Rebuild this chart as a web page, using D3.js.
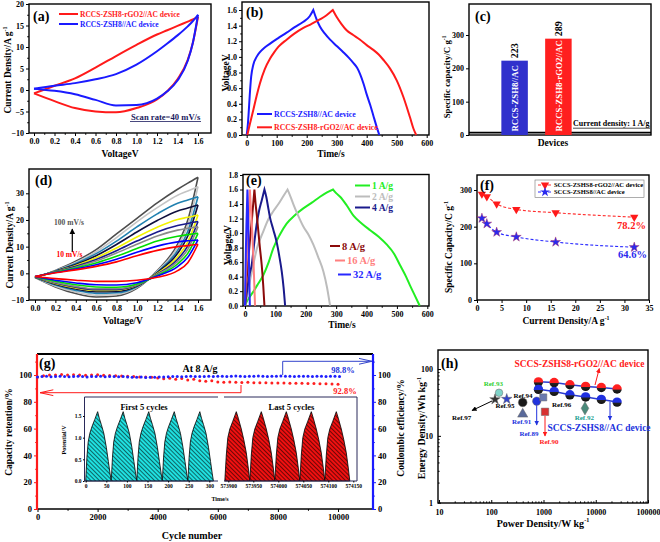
<!DOCTYPE html>
<html><head><meta charset="utf-8">
<script src="https://cdn.jsdelivr.net/npm/d3@7"></script>
<style>body{margin:0;background:#fff}svg{display:block}</style>
</head><body><svg id="c" width="660" height="542"></svg>
<script>
// ================= DATA =================
// (a) CV at 40 mV/s
const aVolt = [0,0.2,0.4,0.6,0.8,1.0,1.2,1.3,1.4,1.5,1.55,1.6];
const aRGOUp = [-0.8,1.0,2.7,5.2,7.9,10.5,12.9,13.9,14.9,15.9,16.4,17.0];
const aRGODown = [-0.8,-2.6,-4.2,-5.0,-5.2,-4.2,-2.2,-0.3,2.5,7.0,11.0,17.0];
const aZSHUp = [0.3,1.0,1.6,2.5,3.7,5.9,9.0,10.8,12.7,14.8,16.0,17.5];
const aZSHDown = [0.3,-0.2,-1.0,-2.3,-3.6,-3.5,-2.0,-0.3,2.2,6.8,11.0,17.5];
const aXTicks = [0,0.2,0.4,0.6,0.8,1.0,1.2,1.4,1.6];
const aYTicks = [-10,-5,0,5,10,15,20];
// (b) GCD at 1 A/g
const bZSHTime = [0,3,6,10,15,22,33,44,60,78,105,133,160,189,210,222,233,244,260,278,300,322,340,356,368,378,390,400,412,422,432,442];
const bZSHVolt = [0,0.1,0.25,0.5,0.75,0.9,1.0,1.06,1.12,1.17,1.24,1.31,1.38,1.45,1.52,1.6,1.48,1.39,1.3,1.22,1.14,1.06,0.99,0.92,0.86,0.78,0.65,0.52,0.38,0.25,0.12,0];
const bRGOTime = [2,10,22,33,44,60,78,92,106,133,160,189,215,244,265,287,300,316,333,355,378,400,422,440,456,478,500,522,544,556,565];
const bRGOVolt = [0,0.13,0.32,0.5,0.66,0.84,0.98,1.06,1.13,1.22,1.3,1.37,1.42,1.48,1.53,1.6,1.51,1.42,1.34,1.28,1.22,1.15,1.09,1.03,0.96,0.85,0.70,0.49,0.23,0.08,0];
const bXTicks = [0,100,200,300,400,500,600];
const bYTicks = [0,0.2,0.4,0.6,0.8,1.0,1.2,1.4,1.6];
// (c) specific capacity
const cDevices = ["RCCS-ZSH8//AC","RCCS-ZSH8-rGO2//AC"];
const cCapacity = [223,289];
const cYTicks = [0,100,200,300];
// (d) CV at different scan rates
const dVolt = [0,0.2,0.4,0.6,0.8,1.0,1.2,1.4,1.5,1.6];
const dScanRates = [10,20,30,40,50,60,70,80,90,100];
const dUpper = [
 [-1.2,0.2,1.3,2.6,4.3,6.6,8.6,10.0,10.4,10.9],
 [-1.2,0.3,1.6,3.2,5.3,7.9,10.2,11.8,12.2,12.5],
 [-1.3,0.4,2.0,3.9,6.4,9.3,12.1,13.9,14.5,15.0],
 [-1.3,0.5,2.3,4.6,7.6,10.9,14.0,16.2,16.9,17.5],
 [-1.4,0.6,2.6,5.2,8.5,12.1,15.5,17.9,18.7,19.4],
 [-1.4,0.7,2.9,5.8,9.5,13.6,17.3,20.2,21.0,21.9],
 [-1.5,0.8,3.3,6.6,10.8,15.5,19.8,23.4,24.5,25.6],
 [-1.5,0.9,3.7,7.4,12.1,17.4,22.3,26.3,27.5,28.7],
 [-1.6,1.0,4.1,8.1,13.4,19.3,24.6,29.3,30.9,32.5],
 [-1.6,1.1,4.5,8.9,14.8,20.6,26.4,31.5,33.8,36.0]];
const dLower = [
 [-1.2,-2.0,-2.6,-3.0,-3.0,-2.6,-1.5,1.0,4.0,10.9],
 [-1.2,-2.6,-3.6,-4.3,-4.4,-3.5,-1.0,2.5,6.0,12.5],
 [-1.3,-3.0,-4.3,-5.1,-5.2,-4.0,-0.8,3.5,7.5,15.0],
 [-1.3,-3.4,-4.9,-5.8,-5.8,-4.3,-0.5,4.5,9.0,17.5],
 [-1.4,-3.6,-5.2,-6.1,-6.1,-4.4,-0.3,5.3,10.3,19.4],
 [-1.4,-3.8,-5.5,-6.4,-6.3,-4.5,0.0,6.2,11.8,21.9],
 [-1.5,-4.1,-5.9,-6.9,-6.8,-4.8,0.3,7.5,14.0,25.6],
 [-1.5,-4.4,-6.4,-7.5,-7.3,-5.0,0.5,8.6,15.8,28.7],
 [-1.6,-4.8,-7.0,-8.2,-7.9,-5.3,0.8,9.8,18.0,32.5],
 [-1.6,-5.1,-7.6,-8.9,-8.5,-5.6,1.0,11.0,20.0,36.0]];
const dYTicks = [-10,0,10,20,30];
// (e) GCD at different current densities
const eLabels = ["1 A/g","2 A/g","4 A/g","8 A/g","16 A/g","32 A/g"];
const eTimes = [
 [0,5,15,27,40,60,78,93,115,137,165,192,220,247,270,290,300,313,335,357,385,412,440,467,490,510,530,543,558,575],
 [0,5,12,20,27,40,60,78,93,110,125,140,150,159,175,192,210,225,240,258,270,280],
 [0,4,10,16,22,30,38,46,55,64,70,76,82,93,104,113,121,127,132],
 [0,3,7,11,14,18,24,31,35,40,44,49,55,60,64],
 [0,2,4,8,12,16,20,24,28,31,33],
 [0,1,3,5,8,10,12,14,16]];
const eVolts = [
 [0,0.05,0.12,0.19,0.28,0.42,0.6,0.79,0.98,1.13,1.25,1.34,1.42,1.5,1.56,1.6,1.55,1.5,1.38,1.24,1.13,1.04,0.95,0.84,0.72,0.56,0.4,0.28,0.15,0],
 [0,0.1,0.25,0.42,0.56,0.8,1.02,1.2,1.3,1.4,1.5,1.6,1.5,1.4,1.24,1.09,0.97,0.84,0.68,0.47,0.25,0],
 [0,0.12,0.3,0.45,0.56,0.85,1.11,1.3,1.45,1.6,1.5,1.36,1.22,1.05,0.88,0.68,0.47,0.25,0],
 [0,0.2,0.45,0.65,0.79,0.98,1.25,1.6,1.4,1.2,1.02,0.8,0.56,0.28,0],
 [0,0.3,0.5,0.85,1.2,1.6,1.3,1.0,0.6,0.25,0],
 [0,0.3,0.79,1.15,1.6,1.3,0.85,0.4,0]];
const eYTicks = [0,0.2,0.4,0.6,0.8,1.0,1.2,1.4,1.6,1.8];
// (f) rate capability
const fCurrent = [1,2,4,8,16,32];
const fRGO = [289,282,262,247,238,226];
const fZSH = [223,208,185,172,158,144];
const fXTicks = [0,5,10,15,20,25,30,35];
const fYTicks = [0,100,200,300];
// (g) cycling
const gRetCycles = [0,200,400,600,800,1000,1200,1400,1600,1800,2000,2200,2400,2600,2800,3000,3200,3400,3600,3800,4000,4200,4400,4600,4800,5000,5200,5400,5600,5800,6000,6200,6400,6600,6800,7000,7200,7400,7600,7800,8000,8200,8400,8600,8800,9000,9200,9400,9600,9800,10000];
const gRetention = [98.5,99.5,100,100,100.3,100,100.2,100,99.8,100,100.2,99.8,99.6,99.5,99.2,99.0,98.8,98.6,98.6,98.3,97.8,97.2,97.6,96.8,97.3,96.2,96.8,95.8,95.3,95.8,94.8,94.6,94.8,94.5,94.4,94.5,94.3,94.2,94.3,94.1,94.0,94.0,93.9,93.8,93.8,93.7,93.6,93.5,93.4,93.3,93.1];
const gEffCycles = [0,150,300,450,600,750,900,1050,1200,1350,1500,1650,1800,1950,2100,2250,2400,2550,2700,2850,3000,3150,3300,3450,3600,3750,3900,4050,4200,4350,4500,4650,4800,4950,5100,5250,5400,5550,5700,5850,6000,6150,6300,6450,6600,6750,6900,7050,7200,7350,7500,7650,7800,7950,8100,8250,8400,8550,8700,8850,9000,9150,9300,9450,9600,9750,9900,10050];
const gEfficiency = [98.6,98.9,99.0,98.7,98.8,99.1,98.9,98.7,98.8,99.0,
 98.8,98.6,98.9,98.8,99.0,98.7,98.8,98.9,98.7,98.8,
 98.6,98.4,98.3,98.5,98.2,98.4,98.3,98.5,98.6,98.7,
 98.8,98.9,98.7,98.8,99.0,98.9,98.8,98.9,99.0,98.8,
 99.0,99.1,98.9,99.0,99.2,99.0,98.9,99.1,99.0,99.2,
 99.0,98.9,99.1,99.0,99.2,99.0,99.1,98.9,99.0,99.1,
 99.0,98.9,99.1,99.0,98.9,99.0,99.1,98.8];
const gXTicks = [0,2000,4000,6000,8000,10000];
const gYTicks = [0,20,40,60,80,100];
// (g) inset
const insetFirstStarts = [0,62,124,186,248];
const insetLastStarts = [573893,573943,573993,574043,574093];
const firstCycleT = [0,3,6,10,15,22,29,33,38,44,50,55,59,62];
const firstCycleV = [0,0.55,0.9,1.1,1.25,1.42,1.6,1.45,1.3,1.1,0.78,0.45,0.18,0];
const lastCycleT = [0,3,6,10,16,23,27,33,38,43,47,50];
const lastCycleV = [0,0.6,1.0,1.2,1.38,1.6,1.45,1.2,0.95,0.65,0.3,0];
const insetTicks1 = [0,50,100,150,200,250,300];
const insetTicks2 = [573900,573950,574000,574050,574100,574150];
const insetYTicks = [0,0.5,1.0,1.5];
// (h) Ragone
const hPower = [800,1600,3200,6400,12800,25600];
const hEnergyRGO = [64.2,62.7,58.2,54.9,52.9,50.2];
const hEnergyZSH = [49.6,46.2,41.1,38.2,35.1,32.0];
const refNames = ["Ref.89","Ref.90","Ref.91","Ref.92","Ref.93","Ref.94","Ref.95","Ref.96","Ref.97"];
const refPower = [741,1070,400,6220,141,400,198,990,118];
const refEnergy = [33.0,22.9,21.1,25.8,44.1,31.6,35.5,37.6,35.1];
const hXTicks = [10,100,1000,10000,100000];
const hYTicks = [1,10,100];

// ================= HELPERS =================
const F = '"Liberation Serif","Times New Roman",serif';
const svg = d3.select('#c');
svg.append('rect').attr('width',660).attr('height',542).attr('fill','#fff');
const defs = svg.append('defs');

function T(x,y,s,o={}){
  const fs = o.fs||9.5;
  const t = svg.append('text').attr('x',x).attr('y',y).attr('font-family',F).attr('font-weight','bold')
    .attr('font-size',fs).attr('fill',o.c||'#000').attr('text-anchor',o.a||'start');
  if(o.r) t.attr('transform',`rotate(${o.r},${x},${y})`);
  if(Array.isArray(s)){
    t.append('tspan').text(s[0]);
    t.append('tspan').text(s[1]).attr('font-size',fs*0.62).attr('dy',-fs*0.42);
  } else t.text(s);
  return t;
}
function frame(x0,y0,x1,y1,sw){
  svg.append('rect').attr('x',x0).attr('y',y0).attr('width',x1-x0).attr('height',y1-y0)
    .attr('fill','none').attr('stroke','#000').attr('stroke-width',sw||1.4);
}
const AX = {b:d3.axisBottom,l:d3.axisLeft,r:d3.axisRight,t:d3.axisTop};
function axis(kind, sc, pos, vals, fmt, o={}){
  const tr = (kind==='b'||kind==='t') ? `translate(0,${pos})` : `translate(${pos},0)`;
  const gen = AX[kind](sc).tickValues(vals).tickFormat(fmt).tickSize(o.ts??3).tickPadding(o.tp??2);
  const g = svg.append('g').attr('transform',tr).call(gen);
  g.select('.domain').remove();
  g.attr('font-family',F).attr('font-size',o.fs||8).attr('font-weight','bold');
  g.selectAll('line').attr('stroke',o.c||'#000').attr('stroke-width',o.sw||1);
  g.selectAll('text').attr('fill',o.tc||'#000');
  if(o.minor){
    const m = svg.append('g').attr('transform',tr).call(AX[kind](sc).tickValues(o.minor).tickFormat(()=> '').tickSize(o.ms??1.8));
    m.select('.domain').remove();
    m.selectAll('line').attr('stroke',o.c||'#000').attr('stroke-width',o.sw||1);
  }
  return g;
}
const L = d3.line().curve(d3.curveMonotoneX);
function peakPath(xs, ys, t, v){
  const pts = t.map((d,i)=>[xs(d), ys(v[i])]);
  const k = d3.maxIndex(v);
  return L(pts.slice(0,k+1)) + L(pts.slice(k)).replace(/^M/,'L');
}
function arrowMarker(id,color){
  defs.append('marker').attr('id',id).attr('viewBox','0 0 10 10').attr('refX',9).attr('refY',5)
    .attr('markerWidth',5).attr('markerHeight',5).attr('orient','auto')
    .append('path').attr('d','M0,0L10,5L0,10Z').attr('fill',color);
}
arrowMarker('arK','#000'); arrowMarker('arR','#ff1a1a'); arrowMarker('arB','#2233dd');
const fmt1 = d3.format('.1f'), fmtD = d3.format('d');

// ================= (a) =================
{
  const x = d3.scaleLinear().domain([0,1.6]).range([34,198]);
  const y = d3.scaleLinear().domain([-10,20]).range([133,4]);
  frame(29,4,211,133);
  axis('b',x,133,aXTicks,fmt1,{minor:d3.range(0.1,1.7,0.2)});
  axis('l',y,29,aYTicks,fmtD,{minor:d3.range(-7.5,20,5)});
  const ln = d3.line().x((d,i)=>x(aVolt[i])).y(d=>y(d)).curve(d3.curveMonotoneX);
  [[aRGOUp,'#ff1a1a'],[aRGODown,'#ff1a1a'],[aZSHUp,'#1a1aff'],[aZSHDown,'#1a1aff']].forEach(([arr,c])=>{
    svg.append('path').attr('d',ln(arr)).attr('fill','none').attr('stroke',c).attr('stroke-width',2);
  });
  svg.append('line').attr('x1',59).attr('x2',78).attr('y1',14).attr('y2',14).attr('stroke','#ff1a1a').attr('stroke-width',2);
  T(80,16.8,'RCCS-ZSH8-rGO2//AC device',{fs:7.5,c:'#ff1a1a'});
  svg.append('line').attr('x1',59).attr('x2',78).attr('y1',24).attr('y2',24).attr('stroke','#1a1aff').attr('stroke-width',2);
  T(80,26.8,'RCCS-ZSH8//AC device',{fs:7.5,c:'#1a1aff'});
  T(131,119.5,'Scan rate=40 mV/s',{fs:8.6,c:'#1a1a5e'});
  svg.append('line').attr('x1',130).attr('x2',201).attr('y1',121.5).attr('y2',121.5).attr('stroke','#1a1a5e').attr('stroke-width',0.8);
  T(33,20.5,'(a)',{fs:14});
  T(11,70,['Current Density/A g','-1'],{a:'middle',r:-90});
  T(120,156.5,'VoltageV',{a:'middle'});
}

// ================= (b) =================
{
  const x = d3.scaleLinear().domain([0,600]).range([246.7,426.7]);
  const y = d3.scaleLinear().domain([0,1.6]).range([135,10]);
  frame(242,2,429,135);
  axis('b',x,135,bXTicks,fmtD,{minor:d3.range(50,600,100)});
  axis('l',y,242,bYTicks,fmt1,{minor:d3.range(0.1,1.7,0.2)});
  svg.append('path').attr('d',peakPath(x,y,bZSHTime,bZSHVolt)).attr('fill','none').attr('stroke','#1a1aff').attr('stroke-width',2);
  svg.append('path').attr('d',peakPath(x,y,bRGOTime,bRGOVolt)).attr('fill','none').attr('stroke','#ff1a1a').attr('stroke-width',2);
  svg.append('line').attr('x1',257).attr('x2',272).attr('y1',114).attr('y2',114).attr('stroke','#1a1aff').attr('stroke-width',2);
  T(274,116.8,'RCCS-ZSH8//AC device',{fs:7.8,c:'#1a1aff'});
  svg.append('line').attr('x1',257).attr('x2',272).attr('y1',127.3).attr('y2',127.3).attr('stroke','#ff1a1a').attr('stroke-width',2);
  T(274,130,'RCCS-ZSH8-rGO2//AC device',{fs:7.8,c:'#ff1a1a'});
  T(246,17,'(b)',{fs:14});
  T(229,73,'VoltageV',{a:'middle',r:-90});
  T(331,156.5,'Time/s',{a:'middle'});
}

// ================= (c) =================
{
  const y = d3.scaleLinear().domain([0,300]).range([135,35]);
  const x = d3.scaleBand().domain(cDevices).range([488,585]).paddingInner(0.395).paddingOuter(0.305);
  frame(469,4,651,135);
  axis('l',y,469,cYTicks,fmtD,{});
  svg.append('line').attr('x1',469).attr('x2',651).attr('y1',y(7)).attr('y2',y(7)).attr('stroke','#000').attr('stroke-width',1.8);
  const cols = ['#3030cc','#ff1f1f'];
  cDevices.forEach((d,i)=>{
    svg.append('rect').attr('x',x(d)).attr('y',y(cCapacity[i])).attr('width',x.bandwidth()).attr('height',y(0)-y(cCapacity[i])).attr('fill',cols[i]);
    const cx = x(d)+x.bandwidth()/2;
    T(cx+3.3, 131.5, d, {fs:8.8,c:'#fff',r:-90});
    T(cx+3.6, y(cCapacity[i])-10, String(cCapacity[i]), {fs:10,a:'middle',r:-90});
  });
  T(573,126.3,'Current density: 1 A/g',{fs:8});
  svg.append('line').attr('x1',573).attr('x2',650).attr('y1',128.2).attr('y2',128.2).attr('stroke','#000').attr('stroke-width',0.7);
  T(475,21,'(c)',{fs:14});
  T(450,77,['Specific capacity/C g','-1'],{a:'middle',r:-90,fs:8.8});
  T(553,146,'Devices',{a:'middle'});
}

// ================= (d) =================
{
  const x = d3.scaleLinear().domain([0,1.6]).range([35,198]);
  const y = d3.scaleLinear().domain([-10,30]).range([300,193.3]);
  frame(29,169,211,300);
  axis('b',x,300,aXTicks,fmt1,{minor:d3.range(0.1,1.7,0.2)});
  axis('l',y,29,dYTicks,fmtD,{minor:d3.range(-5,35,10)});
  const cols = ['#ff0000','#0000ff','#00dd00','#8a8a8a','#1a1a8c','#f2f200','#0f0f3c','#2080b0','#c4c4c4','#4d4d4d'];
  const ln = d3.line().x((d,i)=>x(dVolt[i])).y(d=>y(d)).curve(d3.curveMonotoneX);
  for(let i=dScanRates.length-1;i>=0;i--){
    svg.append('path').attr('d',ln(dUpper[i])).attr('fill','none').attr('stroke',cols[i]).attr('stroke-width',1.6);
    svg.append('path').attr('d',ln(dLower[i])).attr('fill','none').attr('stroke',cols[i]).attr('stroke-width',1.6);
  }
  T(69,224.5,'100 mV/s',{fs:7.5,c:'#555',a:'middle'});
  svg.append('line').attr('x1',72.3).attr('x2',72.3).attr('y1',252).attr('y2',229).attr('stroke','#000').attr('stroke-width',1.2).attr('marker-end','url(#arK)');
  T(69.5,257,'10 mV/s',{fs:7.5,c:'#ff0000',a:'middle'});
  T(35,185,'(d)',{fs:14});
  T(12.5,245,['Current Density/A g','-1'],{a:'middle',r:-90});
  T(123,324,'Voltage/V',{a:'middle'});
}

// ================= (e) =================
{
  const x = d3.scaleLinear().domain([0,600]).range([245,427.3]);
  const y = d3.scaleLinear().domain([0,1.8]).range([305.7,175]);
  frame(243,174.5,429,306);
  axis('b',x,306,bXTicks,fmtD,{minor:d3.range(50,600,100)});
  axis('l',y,243,eYTicks,fmt1,{fs:7.6});
  const cols = ['#22ee22','#bcbcbc','#1a1a8c','#8b0a0a','#ff7f7f','#2828ff'];
  eTimes.forEach((t,i)=>{
    svg.append('path').attr('d',peakPath(x,y,t,eVolts[i])).attr('fill','none').attr('stroke',cols[i]).attr('stroke-width',2);
  });
  const leg = [[355,370,185.5],[355,370,196.5],[355,370,207.5],[330,340,246],[335,345,260.5],[338,351,274.5]];
  leg.forEach((p,i)=>{
    svg.append('line').attr('x1',p[0]).attr('x2',p[1]).attr('y1',p[2]).attr('y2',p[2]).attr('stroke',cols[i]).attr('stroke-width',2);
    T(p[1]+2,p[2]+3.6,eLabels[i],{fs:i<3?9.6:10.5,c:cols[i]});
  });
  T(246,185,'(e)',{fs:14});
  T(230.5,245,'Voltage/V',{a:'middle',r:-90});
  T(342,328,'Time/s',{a:'middle'});
}

// ================= (f) =================
{
  const x = d3.scaleLinear().domain([0,35]).range([477,649]);
  const y = d3.scaleLinear().domain([0,300]).range([300,190]);
  frame(477,175,649,300);
  axis('b',x,300,fXTicks,fmtD,{});
  axis('l',y,477,fYTicks,fmtD,{});
  const ln = d3.line().x((d,i)=>x(fCurrent[i])).y(d=>y(d)).curve(d3.curveMonotoneX);
  svg.append('path').attr('d',ln(fRGO)).attr('fill','none').attr('stroke','#ff3030').attr('stroke-width',1.1).attr('stroke-dasharray','3,2');
  svg.append('path').attr('d',ln(fZSH)).attr('fill','none').attr('stroke','#2a2aff').attr('stroke-width',1.1).attr('stroke-dasharray','3,2');
  const tri = d3.symbol().type(d3.symbolTriangle).size(30)();
  const star = d3.symbol().type(d3.symbolStar).size(30)();
  fRGO.forEach((v,i)=> svg.append('path').attr('d',tri).attr('transform',`translate(${x(fCurrent[i])},${y(v)}) rotate(180)`).attr('fill','#ff1a1a'));
  fZSH.forEach((v,i)=> svg.append('path').attr('d',star).attr('transform',`translate(${x(fCurrent[i])},${y(v)})`).attr('fill','#2a2aee').attr('stroke','#b02050').attr('stroke-width',0.4));
  svg.append('rect').attr('x',535).attr('y',180).attr('width',109).attr('height',17.5).attr('fill','#fff').attr('stroke','#777').attr('stroke-width',0.6);
  svg.append('line').attr('x1',538).attr('x2',552).attr('y1',185).attr('y2',185).attr('stroke','#ff3030').attr('stroke-dasharray','3,2');
  svg.append('path').attr('d',tri).attr('transform','translate(545,185) rotate(180)').attr('fill','#ff1a1a');
  T(554,187.3,'SCCS-ZSHS8-rGO2//AC device',{fs:6.5});
  svg.append('line').attr('x1',538).attr('x2',552).attr('y1',192).attr('y2',192).attr('stroke','#2a2aff').attr('stroke-dasharray','3,2');
  svg.append('path').attr('d',star).attr('transform','translate(545,192)').attr('fill','#2a2aee');
  T(554,194.3,'SCCS-ZSHS8//AC device',{fs:6.5});
  T(617,229,'78.2%',{fs:10.5,c:'#ff1a1a'});
  T(618,258,'64.6%',{fs:10.5,c:'#2a2aee'});
  T(480,190,'(f)',{fs:14});
  T(452,247,['Specific Capacity/C g','-1'],{a:'middle',r:-90});
  T(566,324,['Current Density/A g','-1'],{a:'middle'});
}

// ================= (g) =================
{
  const x = d3.scaleLinear().domain([0,10000]).range([37.5,338]);
  const y = d3.scaleLinear().domain([0,100]).range([509,375]);
  svg.append('line').attr('x1',37).attr('x2',373).attr('y1',354).attr('y2',354).attr('stroke','#000').attr('stroke-width',2);
  svg.append('line').attr('x1',37).attr('x2',373).attr('y1',509).attr('y2',509).attr('stroke','#000').attr('stroke-width',1.5);
  axis('b',x,509,gXTicks,fmtD,{fs:8.5,minor:d3.range(1000,11000,2000)});
  axis('l',y,37,gYTicks,fmtD,{c:'#ff1a1a',fs:8.5,minor:d3.range(10,120,20)});
  axis('r',y,373,gYTicks,fmtD,{c:'#1a1aff',fs:8.5,minor:d3.range(10,120,20)});
  svg.append('line').attr('x1',37).attr('x2',37).attr('y1',354).attr('y2',510).attr('stroke','#ff1a1a').attr('stroke-width',2.2);
  svg.append('line').attr('x1',373).attr('x2',373).attr('y1',354).attr('y2',510).attr('stroke','#1a1aff').attr('stroke-width',2.2);
  gRetCycles.forEach((c,i)=> svg.append('circle').attr('cx',x(c)).attr('cy',y(gRetention[i])).attr('r',1.5).attr('fill','#ff2020'));
  gEffCycles.forEach((c,i)=> svg.append('circle').attr('cx',x(c)).attr('cy',y(gEfficiency[i])).attr('r',1.5).attr('fill','#1f1fff'));
  // arrows
  svg.append('path').attr('d','M241,385L241,392.7L40,392.7').attr('fill','none').attr('stroke','#ff1a1a').attr('stroke-width',1);
  svg.append('path').attr('d','M53.3,389.8L40,392.7L53.3,395.6').attr('fill','none').attr('stroke','#ff1a1a').attr('stroke-width',1);
  svg.append('path').attr('d','M282.7,375L282.7,361.3L372,361.3').attr('fill','none').attr('stroke','#3344cc').attr('stroke-width',1);
  svg.append('path').attr('d','M359,358.4L372,361.3L359,364.2').attr('fill','none').attr('stroke','#3344cc').attr('stroke-width',1);
  T(200,371.5,'At 8 A/g',{fs:10,a:'middle'});
  T(343,372.5,'98.8%',{fs:8.5,c:'#2233dd',a:'middle'});
  T(345,394,'92.8%',{fs:8.5,c:'#ff1a1a',a:'middle'});
  // inset
  const i1 = d3.scaleLinear().domain([0,300]).range([85.7,209.3]);
  const i2 = d3.scaleLinear().domain([573900,574150]).range([228.3,353.3]);
  const iy = d3.scaleLinear().domain([0,1.5]).range([481,416]);
  svg.append('rect').attr('x',84.5).attr('y',397).attr('width',272.5).attr('height',84).attr('fill','#fff');
  const pc = defs.append('pattern').attr('id','hC').attr('patternUnits','userSpaceOnUse').attr('width',3).attr('height',3).attr('patternTransform','rotate(-45)');
  pc.append('rect').attr('width',3).attr('height',3).attr('fill','#1fe0e0');
  pc.append('line').attr('x1',0.5).attr('x2',0.5).attr('y1',0).attr('y2',3).attr('stroke','#000').attr('stroke-width',0.55);
  const pr = defs.append('pattern').attr('id','hR').attr('patternUnits','userSpaceOnUse').attr('width',3).attr('height',3).attr('patternTransform','rotate(-45)');
  pr.append('rect').attr('width',3).attr('height',3).attr('fill','#f01010');
  pr.append('line').attr('x1',0.5).attr('x2',0.5).attr('y1',0).attr('y2',3).attr('stroke','#000').attr('stroke-width',0.55);
  const lin = d3.line();
  function cyc(xs, s, tt, vv, fill){
    const pts = tt.map((t,i)=>[xs(s+t), iy(vv[i])]);
    svg.append('path').attr('d',lin(pts)+'Z').attr('fill',`url(#${fill})`).attr('stroke','#000').attr('stroke-width',0.8);
  }
  insetFirstStarts.forEach(s=>cyc(i1,s,firstCycleT,firstCycleV,'hC'));
  insetLastStarts.forEach(s=>cyc(i2,s,lastCycleT,lastCycleV,'hR'));
  const fr = '#2a2a5a';
  svg.append('path').attr('d','M218,397L84.5,397L84.5,481L218,481').attr('fill','none').attr('stroke',fr).attr('stroke-width',1);
  svg.append('path').attr('d','M224,481L357,481L357,397L224,397').attr('fill','none').attr('stroke',fr).attr('stroke-width',1);
  axis('b',i1,481,insetTicks1,fmtD,{fs:5.5,ts:1.5,tp:2});
  axis('b',i2,481,insetTicks2,fmtD,{fs:5.5,ts:1.5,tp:2});
  axis('l',iy,84.5,insetYTicks,fmt1,{fs:5.5,ts:1.5,tp:1.5});
  T(144,410,'First 5 cycles',{fs:8.5,a:'middle'});
  T(291.5,409.5,'Last 5 cycles',{fs:8.5,a:'middle'});
  T(220,501,'Time/s',{fs:6,a:'middle'});
  T(66,440,'Potential/V',{fs:6,a:'middle',r:-90});
  T(39,368,'(g)',{fs:14});
  T(11.5,432,'Capacity retention/%',{a:'middle',r:-90});
  T(404,428,'Coulombic efficiency/%',{a:'middle',r:-90});
  T(192,538.5,'Cycle number',{a:'middle',fs:10});
}

// ================= (h) =================
{
  const x = d3.scaleLog().domain([10,100000]).range([439,648]);
  const y = d3.scaleLog().domain([1,100]).range([502.7,369]);
  frame(438,350,648,503);
  const xm = []; [10,100,1000,10000].forEach(d=>[2,3,4,5,6,7,8,9].forEach(k=>xm.push(d*k)));
  const ym = []; [1,10,100].forEach(d=>[2,3,4,5,6,7,8,9].forEach(k=>{ if(d*k<190) ym.push(d*k); }));
  axis('b',x,503,hXTicks,fmtD,{ts:-3,tp:6,minor:xm,ms:-1.6});
  axis('l',y,438,hYTicks,fmtD,{ts:-3,tp:5,minor:ym,ms:-1.6});
  // series
  const gr = defs.append('linearGradient').attr('id','gRed').attr('x1',0).attr('y1',0).attr('x2',0).attr('y2',1);
  [[0,'#ff2020'],[0.52,'#ff2020'],[0.6,'#222'],[1,'#111']].forEach(s=>gr.append('stop').attr('offset',s[0]).attr('stop-color',s[1]));
  const gb = defs.append('linearGradient').attr('id','gBlue').attr('x1',0).attr('y1',0).attr('x2',0).attr('y2',1);
  [[0,'#2030e0'],[0.52,'#2030e0'],[0.6,'#222'],[1,'#111']].forEach(s=>gb.append('stop').attr('offset',s[0]).attr('stop-color',s[1]));
  const ln = d3.line().x((d,i)=>x(hPower[i])).y(d=>y(d));
  svg.append('path').attr('d',ln(hEnergyRGO)).attr('fill','none').attr('stroke','#2a3ad0').attr('stroke-width',1.5);
  svg.append('path').attr('d',ln(hEnergyZSH)).attr('fill','none').attr('stroke','#2a3ad0').attr('stroke-width',1.5);
  hEnergyRGO.forEach((e,i)=> svg.append('circle').attr('cx',x(hPower[i])).attr('cy',y(e)).attr('r',4.7).attr('fill','url(#gRed)'));
  hEnergyZSH.forEach((e,i)=> svg.append('circle').attr('cx',x(hPower[i])).attr('cy',y(e)).attr('r',4.7).attr('fill','url(#gBlue)'));
  // refs
  const sym = (t,s)=>d3.symbol().type(t).size(s)();
  const refStyle = {
    "Ref.89":{m:sym(d3.symbolCircle,55),f:'#2233dd',lc:'#2233dd',l:[529,436],arrow:[[536.7,405],[536.7,425],'arB','#2233dd']},
    "Ref.90":{m:sym(d3.symbolSquare,55),f:'#d83030',lc:'#ff1a1a',l:[549,444],arrow:[[545,416],[545,436],'arR','#ff1a1a']},
    "Ref.91":{m:sym(d3.symbolTriangle,45),f:'#5a6a9a',lc:'#2233dd',l:[521.7,423.5]},
    "Ref.92":{m:sym(d3.symbolDiamond,50),f:'#4a8a7a',lc:'#20a090',l:[584.3,420]},
    "Ref.93":{m:sym(d3.symbolCircle,45),f:'#7fd3c8',lc:'#30d030',l:[493.3,386]},
    "Ref.94":{m:sym(d3.symbolCircle,60),f:'#1a1a1a',lc:'#000',l:[523,397.5]},
    "Ref.95":{m:sym(d3.symbolStar,35),f:'#3344cc',lc:'#000',l:[505,408.3]},
    "Ref.96":{m:sym(d3.symbolSquare,50),f:'#6a7ab0',lc:'#000',l:[561.7,406.5]},
    "Ref.97":{m:sym(d3.symbolStar,35),f:'#333',lc:'#000',l:[461.7,420],arrow:[[492,401],[472,410.5],'arK','#000']}
  };
  refNames.forEach((n,i)=>{
    const st = refStyle[n];
    const px = x(refPower[i]), py = y(refEnergy[i]);
    if(st.arrow){
      svg.append('line').attr('x1',st.arrow[0][0]).attr('y1',st.arrow[0][1]).attr('x2',st.arrow[1][0]).attr('y2',st.arrow[1][1])
        .attr('stroke',st.arrow[3]).attr('stroke-width',1).attr('marker-end',`url(#${st.arrow[2]})`);
    }
    svg.append('path').attr('d',st.m).attr('transform',`translate(${px},${py})`).attr('fill',st.f).attr('stroke','#666').attr('stroke-width',0.5);
    T(st.l[0],st.l[1],n,{fs:7,c:st.lc,a:'middle'});
  });
  svg.append('line').attr('x1',595).attr('y1',385).attr('x2',599.3).attr('y2',368.5).attr('stroke','#ff1a1a').attr('stroke-width',1).attr('marker-end','url(#arR)');
  T(579.5,366.5,'SCCS-ZSHS8-rGO2//AC device',{fs:9.5,c:'#ff1a1a',a:'middle'});
  svg.append('line').attr('x1',610).attr('y1',401.7).attr('x2',610).attr('y2',420).attr('stroke','#2233dd').attr('stroke-width',1).attr('marker-end','url(#arB)');
  T(599,430.5,'SCCS-ZSHS8//AC device',{fs:9.5,c:'#2233dd',a:'middle'});
  T(441,368,'(h)',{fs:14});
  T(425,428,['Energy Density/Wh kg','-1'],{a:'middle',r:-90,fs:10});
  T(543,526.5,['Power Density/W kg','-1'],{a:'middle',fs:10});
}
</script></body></html>
